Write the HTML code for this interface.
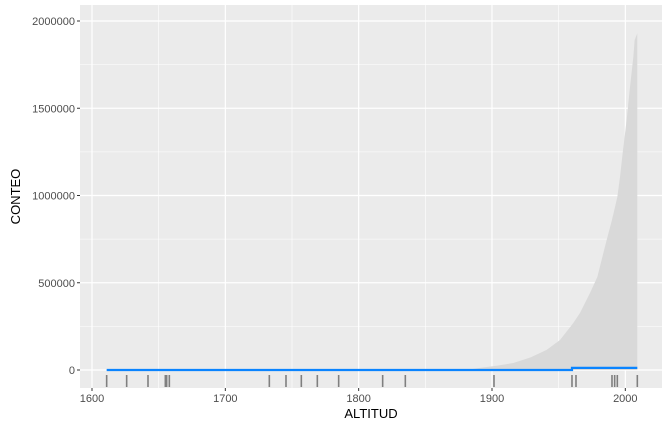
<!DOCTYPE html>
<html><head><meta charset="utf-8"><style>
body{margin:0;background:#fff;}
svg{display:block;font-family:"Liberation Sans",sans-serif;}
</style></head><body>
<svg id="chart" width="671" height="431"></svg>
<script>
const xTicks=[1600,1700,1800,1900,2000];
const xMinor=[1650,1750,1850,1950];
const yTicks=[0,500000,1000000,1500000,2000000];
const yMinor=[250000,750000,1250000,1750000];
const rugYears=[1611,1626,1642,1655,1656,1658,1733,1745.5,1757,1769,1785,1818,1835,1901.5,1960,1963,1990,1992,1994,2009];
const ribbonYears=[1881,1891,1904,1916,1929,1941,1951,1961,1966,1973.5,1979,1986,1990,1994,1996,1998,2001,2003.5,2006,2007,2009];
const ribbonUpper=[0,12000,25000,40000,72000,115000,172000,269000,327000,441000,533000,745000,860000,991000,1106000,1243000,1433000,1622000,1794000,1891000,1930000];
const lineYears=[1611,1960,1960,2009];
const lineValues=[0,0,12000,12000];

const svg=document.getElementById('chart');
const NS='http://www.w3.org/2000/svg';
const L=80,R=662,T=5,B=388;
const x=v=>92+(v-1600)*1.3333;
const y=v=>370-v*174.5e-6;
function mk(tag,attrs,parent){const e=document.createElementNS(NS,tag);for(const k in attrs)e.setAttribute(k,attrs[k]);(parent||svg).appendChild(e);return e;}

const panel=mk('rect',{x:L,y:T,width:R-L,height:B-T,fill:'#ebebeb'});


xMinor.forEach(v=>{const l=mk('line',{x1:x(v),x2:x(v),y1:T,y2:B,stroke:'#fff','stroke-width':0.6});});
yMinor.forEach(v=>{const l=mk('line',{x1:L,x2:R,y1:y(v),y2:y(v),stroke:'#fff','stroke-width':0.6});});
xTicks.forEach(v=>{const l=mk('line',{x1:x(v),x2:x(v),y1:T,y2:B,stroke:'#fff','stroke-width':1.2});
 const t=mk('line',{x1:x(v),x2:x(v),y1:B,y2:B+3,stroke:'#333','stroke-width':1});
 const tx=mk('text',{x:x(v),y:B+14,'text-anchor':'middle','font-size':11,fill:'#4d4d4d'});tx.textContent=v;});
yTicks.forEach(v=>{const l=mk('line',{x1:L,x2:R,y1:y(v),y2:y(v),stroke:'#fff','stroke-width':1.2});
 const t=mk('line',{x1:L-3,x2:L,y1:y(v),y2:y(v),stroke:'#333','stroke-width':1});
 const tx=mk('text',{x:L-5,y:y(v)+4,'text-anchor':'end','font-size':11,fill:'#4d4d4d'});tx.textContent=v;});

let d='M'+x(ribbonYears[0])+','+y(0);
ribbonYears.forEach((yr,i)=>{d+=' L'+x(yr)+','+y(ribbonUpper[i]);});
d+=' L'+x(ribbonYears[ribbonYears.length-1])+','+y(0)+' Z';
const rib=mk('path',{d:d,fill:'#d9d9d9'});



const pts=lineYears.map((yr,i)=>x(yr)+','+y(lineValues[i])).join(' ');
const ln=mk('polyline',{points:pts,fill:'none',stroke:'#0a84ff','stroke-width':2.2});



rugYears.forEach(v=>{const r=mk('line',{x1:x(v),x2:x(v),y1:375,y2:387,stroke:'#7f7f7f','stroke-width':1.6});});

const xt=mk('text',{x:(L+R)/2,y:418,'text-anchor':'middle','font-size':13,fill:'#000'});xt.textContent='ALTITUD';


const yt=mk('text',{x:20,y:(T+B)/2,'text-anchor':'middle','font-size':13,fill:'#000',transform:'rotate(-90 20 '+((T+B)/2)+')'});yt.textContent='CONTEO';


</script>
</body></html>
